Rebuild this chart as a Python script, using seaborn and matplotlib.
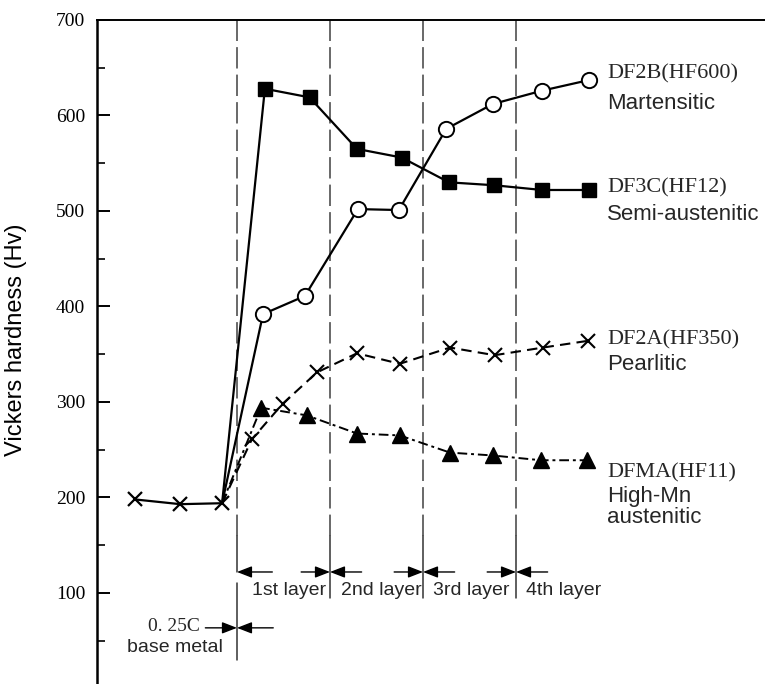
import matplotlib
matplotlib.use("Agg")
import matplotlib.pyplot as plt
import seaborn as sns
import numpy as np
from matplotlib.ticker import MultipleLocator

# ---------------- data (positions in "layer" units, 0 = fusion line) ----------
base_x = [-1.10, -0.61, -0.16]
base_hv = [198, 193, 194]

df2b_x = [0.28, 0.73, 1.30, 1.74, 2.25, 2.75, 3.28, 3.78]
df2b_hv = [392, 411, 502, 501, 586, 612, 626, 637]

df3c_x = [0.30, 0.78, 1.29, 1.77, 2.28, 2.76, 3.28, 3.79]
df3c_hv = [628, 619, 565, 556, 530, 527, 522, 522]

df2a_x = [0.16, 0.49, 0.86, 1.29, 1.75, 2.29, 2.77, 3.29, 3.77]
df2a_hv = [261, 298, 331, 351, 340, 357, 349, 357, 364]

dfma_x = [0.26, 0.75, 1.29, 1.75, 2.29, 2.75, 3.27, 3.76]
dfma_hv = [294, 286, 267, 265, 247, 244, 239, 239]

layer_bounds = [0, 1, 2, 3]
layer_names = ["1st layer", "2nd layer", "3rd layer", "4th layer"]
layer_label_x = [0.56, 1.55, 2.52, 3.51]
ytick_values = [100, 200, 300, 400, 500, 600, 700]

series_names = ["DF2B(HF600)", "DF3C(HF12)", "DF2A(HF350)", "DFMA(HF11)"]
series_types = ["Martensitic", "Semi-austenitic", "Pearlitic", "High-Mn\naustenitic"]

SERIF = "Liberation Serif"
SANS = "Liberation Sans"

sns.set_theme(style="white")
plt.rcParams["font.family"] = [SANS, "DejaVu Sans"]

fig = plt.figure(figsize=(7.65, 6.84), dpi=100)
ax = fig.add_axes([97 / 765, 0, (765 - 97) / 765, (684 - 20) / 684])
ax.set_xlim(-1.505, 5.677)
ax.set_ylim(4.7, 700)

# ---------------- layer boundaries ----------------
for b in layer_bounds:
    ax.plot([b, b], [160, 700], color="0.25", lw=1.1, linestyle=(0, (14, 4)), zorder=1)
for b in layer_bounds[1:]:
    ax.plot([b, b], [95, 160], color="0.2", lw=1.1, zorder=1)
ax.plot([0, 0], [122, 160], color="0.2", lw=1.1, zorder=1)
ax.plot([0, 0], [30, 110], color="0.2", lw=1.1, zorder=1)

# ---------------- series ----------------
bx0, by0 = base_x[-1], base_hv[-1]
common = dict(color="black", markeredgecolor="black", legend=False, ax=ax)

sns.lineplot(x=base_x, y=base_hv, marker="x", markersize=10, markeredgewidth=1.6,
             lw=1.6, sort=False, **common)

sns.lineplot(x=[bx0] + df2b_x, y=[by0] + df2b_hv, marker="o", markersize=11,
             markerfacecolor="white", markeredgewidth=1.4, lw=1.6, sort=False,
             markevery=list(range(1, len(df2b_x) + 1)), zorder=4, **common)

sns.lineplot(x=[bx0] + df3c_x, y=[by0] + df3c_hv, marker="s", markersize=10,
             markerfacecolor="black", markeredgewidth=1.0, lw=1.6, sort=False,
             markevery=list(range(1, len(df3c_x) + 1)), zorder=3, **common)

sns.lineplot(x=[bx0] + df2a_x, y=[by0] + df2a_hv, marker="x", markersize=10,
             markeredgewidth=1.5, lw=1.5, linestyle=(0, (5, 3)), sort=False,
             markevery=list(range(1, len(df2a_x) + 1)), zorder=3, **common)

sns.lineplot(x=[bx0] + dfma_x, y=[by0] + dfma_hv, marker="^", markersize=11,
             markerfacecolor="black", markeredgewidth=1.0, lw=1.4,
             linestyle=(0, (5, 2, 1.5, 2)), sort=False,
             markevery=list(range(1, len(dfma_x) + 1)), zorder=3, **common)

# ---------------- series labels ----------------
name_y = [644, 524, 365, 226]
type_y = [613, 496, 339, 190]
lx = 3.98
for nm, ty, ny, tyy in zip(series_names, series_types, name_y, type_y):
    ax.text(lx, ny, nm, family=SERIF, fontsize=16, ha="left", va="center", clip_on=False)
    ax.text(lx, tyy, ty, family=SANS, fontsize=16, ha="left", va="center",
            linespacing=0.95, clip_on=False)

# ---------------- layer dimension arrows ----------------
arrow_kw = dict(arrowstyle="-|>,head_length=0.9,head_width=0.35", color="black",
                lw=1.0, shrinkA=0, shrinkB=0, mutation_scale=10)
row_y = 122
ax.annotate("", xy=(0, row_y), xytext=(0.38, row_y), arrowprops=arrow_kw)
for b in layer_bounds[1:]:
    ax.annotate("", xy=(b, row_y), xytext=(b - 0.31, row_y), arrowprops=arrow_kw)
    ax.annotate("", xy=(b, row_y), xytext=(b + 0.34, row_y), arrowprops=arrow_kw)
for lbl, x in zip(layer_names, layer_label_x):
    ax.text(x, 103, lbl, family=SANS, fontsize=14, ha="center", va="center")

base_row = 63.5
ax.annotate("", xy=(0, base_row), xytext=(-0.34, base_row), arrowprops=arrow_kw)
ax.annotate("", xy=(0, base_row), xytext=(0.39, base_row), arrowprops=arrow_kw)
ax.text(-0.40, base_row + 1, "0. 25C", family=SERIF, fontsize=14, ha="right", va="center")
ax.text(-0.67, 42.4, "base metal", family=SANS, fontsize=14, ha="center", va="center")

# ---------------- axes styling ----------------
for s in ["right", "bottom"]:
    ax.spines[s].set_visible(False)
ax.spines["left"].set_linewidth(1.8)
ax.spines["top"].set_linewidth(1.4)
ax.spines["left"].set_color("black")
ax.spines["top"].set_color("black")
ax.set_xticks([])
ax.set_yticks(ytick_values)
ax.yaxis.set_minor_locator(MultipleLocator(50))
ax.tick_params(axis="y", which="major", direction="in", length=9.5, width=1.4,
               labelsize=14, pad=8.5, labelfontfamily=SERIF, left=True, colors="black")
ax.tick_params(axis="y", which="minor", direction="in", length=6, width=1.4, left=True)
ax.set_ylabel("Vickers hardness (Hv)", fontsize=17, family=SANS, color="black")
ax.yaxis.set_label_coords(-0.1048, 0.518)
ax.grid(False)

fig.savefig("out.png", dpi=100)
